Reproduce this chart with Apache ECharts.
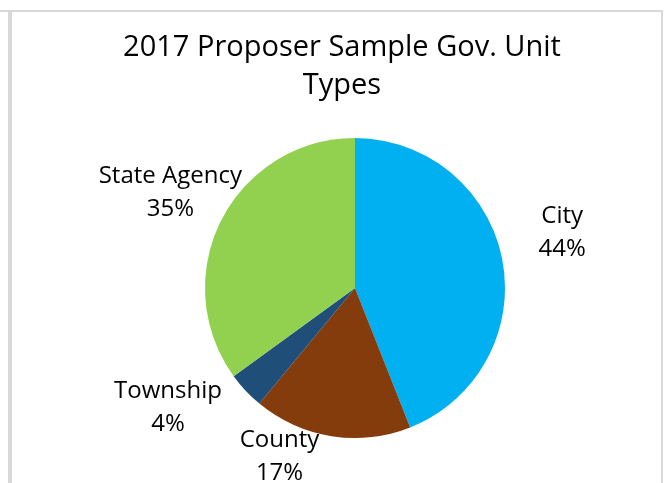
<!DOCTYPE html>
<html>
<head>
<meta charset="utf-8">
<script src="https://cdn.jsdelivr.net/npm/echarts@6/dist/echarts.min.js"></script>
<style>
html,body{margin:0;padding:0;background:#fff;}
#chart{width:664px;height:483px;}
</style>
</head>
<body>
<div id="chart"></div>
<script>
const categories = ['City', 'County', 'Township', 'State Agency'];
const values = [44, 17, 4, 35];
const colors = ['#00B0F0', '#843C0C', '#1F4E79', '#92D050'];
const titleText = '2017 Proposer Sample Gov. Unit\nTypes';

const labelNudge = [[-8, -15], [-37, -43], [-26, -27], [11, 2]];
const FONT = 'Open Sans';

const chart = echarts.init(document.getElementById('chart'));
chart.setOption({
  animation: false,
  backgroundColor: '#ffffff',
  title: {
    text: titleText,
    left: 337,
    textAlign: 'center',
    top: 24,
    textStyle: { fontFamily: FONT, fontSize: 29, fontWeight: 'normal', color: '#000', lineHeight: 38 }
  },
  graphic: [
    { type: 'rect', shape: { x: 0, y: 10, width: 663, height: 2 }, style: { fill: '#d9d9d9' }, silent: true },
    { type: 'rect', shape: { x: 8, y: 10, width: 4, height: 473 }, style: { fill: '#d9d9d9' }, silent: true },
    { type: 'rect', shape: { x: 661, y: 10, width: 2, height: 473 }, style: { fill: '#d9d9d9' }, silent: true }
  ],
  series: [{
    type: 'pie',
    center: [355, 288],
    radius: 150,
    startAngle: 90,
    clockwise: true,
    avoidLabelOverlap: false,
    data: categories.map((c, i) => ({ name: c, value: values[i], itemStyle: { color: colors[i] } })),
    label: {
      show: true,
      position: 'outside',
      formatter: p => p.name + '\n' + Math.round(p.percent) + '%',
      fontFamily: FONT,
      fontSize: 24,
      lineHeight: 33,
      color: '#000',
      align: 'center'
    },
    labelLine: { show: false, length: 64, length2: 0 },
    labelLayout: p => ({ dx: labelNudge[p.dataIndex][0], dy: labelNudge[p.dataIndex][1], align: 'center', verticalAlign: 'middle' })
  }]
});
</script>
</body>
</html>
